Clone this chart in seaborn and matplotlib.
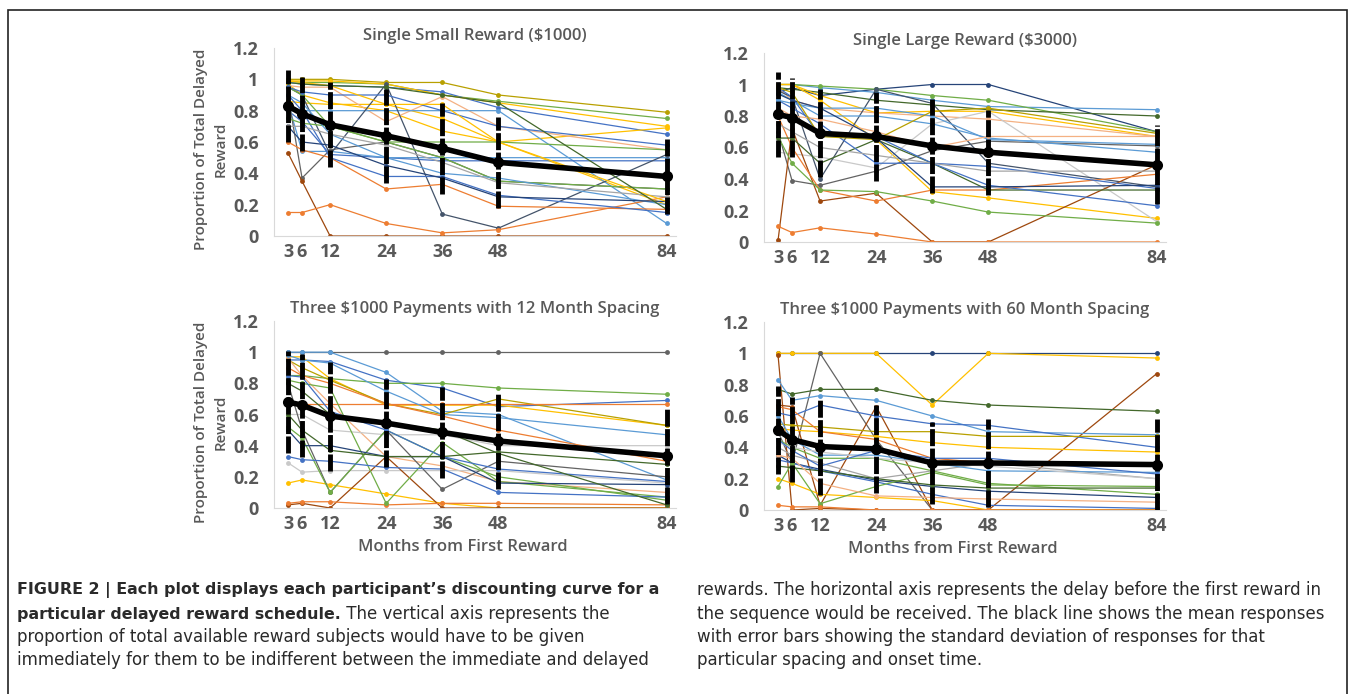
import pandas as pd
import matplotlib
matplotlib.use("Agg")
import matplotlib.pyplot as plt
import seaborn as sns
from matplotlib.patches import Rectangle

months = [3, 6, 12, 24, 36, 48, 84]
y_ticks = [0, 0.2, 0.4, 0.6, 0.8, 1, 1.2]
y_tick_labels = ["0", "0.2", "0.4", "0.6", "0.8", "1", "1.2"]

titles = ["Single Small Reward ($1000)", "Single Large Reward ($3000)",
          "Three $1000 Payments with 12 Month Spacing",
          "Three $1000 Payments with 60 Month Spacing"]

# excel-ish colours
B, LB, DB = "#4472C4", "#5B9BD5", "#264478"
O, BR, LO = "#ED7D31", "#9E480E", "#F4B183"
G, DG, LG = "#A5A5A5", "#636363", "#C9C9C9"
Y, DY = "#FFC000", "#B8A000"
GR, DGR = "#70AD47", "#43682B"
SL = "#44546A"

# single small reward
small_lines = [
    [1.00, 1.00, 1.00, 0.98, 0.98, 0.90, 0.79],
    [0.99, 0.98, 0.98, 0.97, 0.90, 0.86, 0.75],
    [0.98, 0.97, 0.96, 0.95, 0.92, 0.82, 0.65],
    [0.99, 0.99, 0.99, 0.97, 0.90, 0.85, 0.70],
    [0.86, 0.85, 0.84, 0.84, 0.75, 0.60, 0.69],
    [0.97, 0.90, 0.85, 0.80, 0.67, 0.60, 0.20],
    [0.96, 0.95, 0.95, 0.73, 0.89, 0.70, 0.55],
    [0.80, 0.80, 0.80, 0.80, 0.80, 0.80, 0.08],
    [0.80, 0.73, 0.52, 0.50, 0.48, 0.48, 0.48],
    [0.85, 0.54, 0.54, 0.50, 0.50, 0.50, 0.50],
    [0.90, 0.37, 0.55, 0.60, 0.50, 0.35, 0.30],
    [0.95, 0.90, 0.52, 0.97, 0.14, 0.05, 0.52],
    [0.53, 0.35, 0.00, 0.00, 0.00, 0.00, 0.00],
    [0.15, 0.15, 0.20, 0.08, 0.02, 0.04, 0.25],
    [0.60, 0.55, 0.50, 0.30, 0.33, 0.19, 0.17],
    [0.90, 0.80, 0.50, 0.38, 0.38, 0.26, 0.15],
    [0.95, 0.90, 0.70, 0.60, 0.60, 0.60, 0.55],
    [0.75, 0.72, 0.70, 0.60, 0.50, 0.35, 0.30],
    [0.90, 0.85, 0.65, 0.50, 0.40, 0.37, 0.20],
    [0.95, 0.92, 0.90, 0.90, 0.80, 0.70, 0.58],
    [0.70, 0.60, 0.58, 0.45, 0.37, 0.25, 0.22],
    [0.70, 0.70, 0.65, 0.58, 0.47, 0.34, 0.25],
    [0.99, 0.98, 0.96, 0.84, 0.84, 0.60, 0.22],
    [0.98, 0.97, 0.96, 0.95, 0.90, 0.85, 0.17],
]
small_colors = [DY, GR, B, Y, Y, Y, LO, LB, B, LB, DG, SL, BR, O, O,
                B, GR, GR, LB, B, DB, G, Y, DGR]
small_mean = [0.83, 0.78, 0.71, 0.64, 0.56, 0.47, 0.38]
small_sd = [0.23, 0.235, 0.27, 0.30, 0.29, 0.29, 0.24]

# single large reward
large_lines = [
    [0.95, 0.98, 0.93, 0.97, 1.00, 1.00, 0.70],
    [1.00, 1.00, 0.98, 0.95, 0.90, 0.86, 0.84],
    [1.00, 1.00, 0.99, 0.97, 0.93, 0.90, 0.70],
    [0.98, 0.97, 0.95, 0.90, 0.87, 0.84, 0.80],
    [1.00, 1.00, 0.93, 0.82, 0.83, 0.83, 0.67],
    [1.00, 1.00, 0.90, 0.65, 0.32, 0.28, 0.15],
    [0.98, 0.90, 0.85, 0.82, 0.80, 0.78, 0.67],
    [0.57, 0.56, 0.54, 0.47, 0.75, 0.83, 0.13],
    [0.70, 0.39, 0.36, 0.45, 0.58, 0.64, 0.61],
    [0.96, 0.92, 0.40, 0.97, 0.88, 0.50, 0.35],
    [0.01, 0.72, 0.26, 0.31, 0.00, 0.00, 0.49],
    [0.10, 0.06, 0.09, 0.05, 0.00, 0.00, 0.00],
    [0.80, 0.60, 0.33, 0.26, 0.33, 0.33, 0.43],
    [0.67, 0.50, 0.33, 0.32, 0.26, 0.19, 0.12],
    [0.66, 0.66, 0.50, 0.65, 0.50, 0.33, 0.33],
    [0.90, 0.85, 0.75, 0.50, 0.50, 0.48, 0.34],
    [0.95, 0.90, 0.80, 0.80, 0.75, 0.66, 0.57],
    [0.98, 0.92, 0.67, 0.67, 0.50, 0.36, 0.23],
    [0.90, 0.88, 0.85, 0.85, 0.80, 0.65, 0.62],
    [0.75, 0.70, 0.60, 0.55, 0.50, 0.45, 0.45],
    [0.85, 0.80, 0.78, 0.70, 0.60, 0.67, 0.67],
    [0.94, 0.90, 0.85, 0.66, 0.35, 0.35, 0.36],
    [0.98, 0.95, 0.67, 0.65, 0.83, 0.85, 0.69],
]
large_colors = [DB, LB, GR, DGR, Y, Y, LO, LG, DG, SL, BR, O, O, GR,
                DGR, B, LB, B, LB, G, LO, DB, DY]
large_mean = [0.81, 0.79, 0.69, 0.67, 0.61, 0.57, 0.49]
large_sd = [0.27, 0.25, 0.28, 0.28, 0.30, 0.27, 0.25]

# three payments, 12 month spacing
spaced12_lines = [
    [1.00, 1.00, 1.00, 1.00, 1.00, 1.00, 1.00],
    [1.00, 1.00, 1.00, 0.87, 0.62, 0.60, 0.18],
    [0.95, 0.95, 0.94, 0.82, 0.77, 0.65, 0.69],
    [0.85, 0.85, 0.83, 0.80, 0.80, 0.77, 0.73],
    [0.97, 0.97, 0.83, 0.66, 0.66, 0.66, 0.53],
    [0.95, 0.90, 0.82, 0.67, 0.60, 0.70, 0.53],
    [0.67, 0.67, 0.67, 0.67, 0.67, 0.67, 0.67],
    [0.96, 0.85, 0.67, 0.33, 0.27, 0.17, 0.10],
    [0.60, 0.60, 0.50, 0.47, 0.47, 0.40, 0.40],
    [0.29, 0.23, 0.24, 0.24, 0.24, 0.24, 0.16],
    [0.16, 0.18, 0.15, 0.09, 0.03, 0.00, 0.00],
    [0.02, 0.03, 0.00, 0.33, 0.00, 0.00, 0.00],
    [0.03, 0.04, 0.04, 0.02, 0.03, 0.03, 0.02],
    [0.80, 0.50, 0.10, 0.50, 0.12, 0.30, 0.20],
    [0.52, 0.45, 0.10, 0.50, 0.33, 0.20, 0.05],
    [0.82, 0.80, 0.77, 0.03, 0.42, 0.17, 0.07],
    [0.33, 0.31, 0.30, 0.26, 0.25, 0.10, 0.07],
    [0.50, 0.40, 0.40, 0.33, 0.33, 0.16, 0.15],
    [0.85, 0.84, 0.62, 0.50, 0.33, 0.25, 0.17],
    [0.60, 0.50, 0.37, 0.33, 0.33, 0.36, 0.28],
    [0.98, 0.95, 0.93, 0.75, 0.60, 0.58, 0.47],
    [0.90, 0.85, 0.80, 0.67, 0.59, 0.50, 0.30],
    [0.80, 0.75, 0.60, 0.55, 0.50, 0.35, 0.02],
]
spaced12_colors = [DG, LB, B, GR, Y, DY, O, LO, LG, LG, Y, BR, O, DG,
                   GR, GR, B, DB, B, DGR, LB, O, DGR]
spaced12_mean = [0.68, 0.66, 0.59, 0.545, 0.485, 0.43, 0.335]
spaced12_sd = [0.33, 0.33, 0.35, 0.28, 0.29, 0.31, 0.31]

# three payments, 60 month spacing
spaced60_lines = [
    [1.00, 1.00, 1.00, 1.00, 1.00, 1.00, 1.00],
    [1.00, 1.00, 1.00, 1.00, 0.67, 1.00, 0.97],
    [0.50, 0.30, 1.00, 0.45, 0.00, 0.00, 0.00],
    [0.99, 0.00, 0.01, 0.00, 0.00, 0.00, 0.87],
    [0.67, 0.66, 0.03, 0.66, 0.00, 0.00, 0.00],
    [0.77, 0.74, 0.77, 0.77, 0.70, 0.67, 0.63],
    [0.83, 0.70, 0.73, 0.70, 0.60, 0.50, 0.48],
    [0.62, 0.60, 0.67, 0.60, 0.55, 0.54, 0.40],
    [0.55, 0.54, 0.53, 0.50, 0.50, 0.47, 0.47],
    [0.52, 0.51, 0.50, 0.47, 0.43, 0.40, 0.37],
    [0.66, 0.64, 0.50, 0.45, 0.33, 0.30, 0.28],
    [0.45, 0.40, 0.33, 0.33, 0.25, 0.17, 0.10],
    [0.40, 0.35, 0.30, 0.20, 0.25, 0.30, 0.20],
    [0.35, 0.30, 0.26, 0.19, 0.15, 0.12, 0.08],
    [0.32, 0.30, 0.25, 0.18, 0.10, 0.03, 0.01],
    [0.20, 0.17, 0.10, 0.08, 0.06, 0.00, 0.00],
    [0.15, 0.30, 0.04, 0.15, 0.24, 0.16, 0.15],
    [0.03, 0.02, 0.02, 0.00, 0.00, 0.00, 0.00],
    [0.60, 0.45, 0.35, 0.35, 0.30, 0.25, 0.24],
    [0.43, 0.40, 0.37, 0.33, 0.30, 0.28, 0.20],
    [0.28, 0.27, 0.25, 0.20, 0.16, 0.14, 0.14],
    [0.35, 0.33, 0.17, 0.09, 0.08, 0.07, 0.05],
    [0.45, 0.38, 0.28, 0.38, 0.33, 0.33, 0.23],
]
spaced60_colors = [DB, Y, DG, BR, BR, DGR, LB, B, DY, Y, O, GR, G, DB,
                   B, Y, GR, O, LB, LG, DGR, LO, B]
spaced60_mean = [0.51, 0.45, 0.405, 0.39, 0.30, 0.30, 0.29]
spaced60_sd = [0.28, 0.27, 0.31, 0.28, 0.26, 0.28, 0.29]

panels = [
    (small_lines, small_colors, small_mean, small_sd),
    (large_lines, large_colors, large_mean, large_sd),
    (spaced12_lines, spaced12_colors, spaced12_mean, spaced12_sd),
    (spaced60_lines, spaced60_colors, spaced60_mean, spaced60_sd),
]

sns.set_style("white")
plt.rcParams["font.family"] = ["Open Sans", "DejaVu Sans"]

W, H = 1355, 694
fig = plt.figure(figsize=(W / 100, H / 100), dpi=100)

# axes boxes in pixels: left, top, width, height
boxes = [(274, 48, 402, 188), (764, 53, 402, 189),
         (274, 321, 402, 187), (764, 322, 402, 188)]
grey = "#595959"

for i, ((lines, colors, mean, sd), (l, t, w, h)) in enumerate(zip(panels, boxes)):
    ax = fig.add_axes([l / W, 1 - (t + h) / H, w / W, h / H])
    rows = []
    for j, vals in enumerate(lines):
        for m, v in zip(months, vals):
            rows.append({"participant": f"p{j:02d}", "month": m, "value": v})
    df = pd.DataFrame(rows)
    pal = {f"p{j:02d}": c for j, c in enumerate(colors)}
    sns.lineplot(data=df, x="month", y="value", hue="participant", palette=pal,
                 estimator=None, marker="o", markersize=3.5, markeredgewidth=0,
                 linewidth=0.9, legend=False, ax=ax)
    eb = ax.errorbar(months, mean, yerr=sd, fmt="none", ecolor="black",
                     elinewidth=3.5, capsize=0, zorder=5)
    eb[2][0].set_linestyle((0, (3.5, 0.5)))
    sns.lineplot(x=months, y=mean, color="black", linewidth=4, marker="o",
                 markersize=8, markeredgewidth=0, ax=ax, zorder=6)

    ax.set_xlim(0, 86)
    ax.set_ylim(0, 1.2)
    ax.set_xticks(months)
    ax.set_xticklabels([str(m) for m in months])
    ax.set_yticks(y_ticks)
    ax.set_yticklabels(y_tick_labels)
    ax.tick_params(length=0, labelsize=13, labelcolor=grey)
    ax.tick_params(axis="x", pad=5)
    ax.tick_params(axis="y", pad=11)
    for lab in ax.get_xticklabels() + ax.get_yticklabels():
        lab.set_fontweight("bold")
    for s in ["top", "right"]:
        ax.spines[s].set_visible(False)
    for s in ["left", "bottom"]:
        ax.spines[s].set_color("#D9D9D9")
        ax.spines[s].set_linewidth(0.8)
    ax.set_title(titles[i], fontsize=12, fontweight="semibold", color=grey, pad=6)
    ax.set_xlabel("")
    ax.set_ylabel("")
    if i % 2 == 0:
        ax.set_ylabel("Proportion of Total Delayed\nReward", fontsize=11,
                      fontweight="semibold", color=grey, linespacing=1.5)
        ax.yaxis.set_label_coords(-0.115, 0.46)
    if i >= 2:
        ax.set_xlabel("Months from First Reward", fontsize=12,
                      fontweight="semibold", color=grey)
        ax.xaxis.set_label_coords(0.47, -0.165)

# frame round the figure
fig.add_artist(Rectangle((8 / W, -0.02), (1347 - 8) / W, (H - 10) / H + 0.02,
                         transform=fig.transFigure, fill=False,
                         edgecolor="#222222", linewidth=1.2))

# caption
cap_font = dict(color="#2a2a2a", family=["DejaVu Sans"], va="center")
left_lines = [
    ("FIGURE 2 | Each plot displays each participant\u2019s discounting curve for a", ""),
    ("particular delayed reward schedule.", " The vertical axis represents the"),
    ("", "proportion of total available reward subjects would have to be given"),
    ("", "immediately for them to be indifferent between the immediate and delayed"),
]
right_lines = [
    "rewards. The horizontal axis represents the delay before the first reward in",
    "the sequence would be received. The black line shows the mean responses",
    "with error bars showing the standard deviation of responses for that",
    "particular spacing and onset time.",
]
line_y = [590, 614, 637, 660]
renderer = fig.canvas.get_renderer()
for (bold, normal), y in zip(left_lines, line_y):
    x = 17 / W
    if bold:
        tb = fig.text(x, 1 - y / H, bold, fontweight="bold", fontsize=11.4,
                      **cap_font)
        x = tb.get_window_extent(renderer).x1 / W
    if normal:
        fig.text(x, 1 - y / H, normal, fontsize=12, **cap_font)
for txt, y in zip(right_lines, line_y):
    fig.text(697 / W, 1 - y / H, txt, fontsize=12, **cap_font)

fig.savefig("out.png", dpi=100)
